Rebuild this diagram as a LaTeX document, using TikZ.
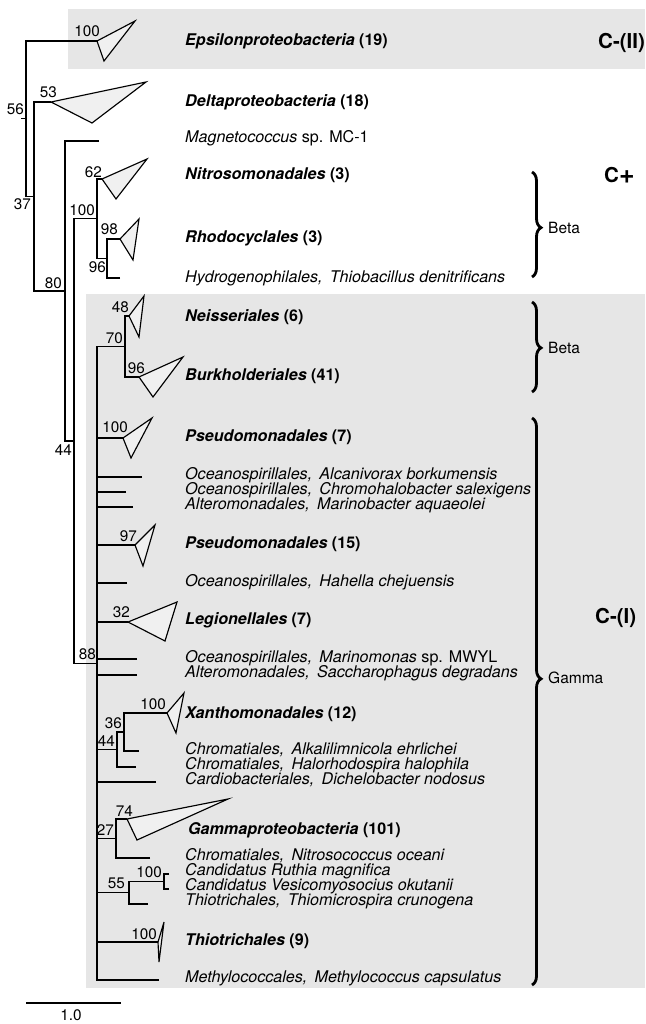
\documentclass[tikz,border=0pt]{standalone}
\usepackage{fontspec}
\usepackage{graphicx}
\setmainfont{TeX Gyre Heros}
\usetikzlibrary{decorations.pathreplacing}
\definecolor{bgbox}{HTML}{E6E6E6}
\definecolor{trifill}{HTML}{F0F0F0}
\newcommand{\commagap}{\hspace{0.45em}}
\begin{document}
\begin{tikzpicture}[x=1pt,y=-1pt,
  br/.style={line width=1.15pt, line join=miter},
  clade/.style={line width=1.15pt, fill=trifill, line join=miter},
  bs/.style={inner sep=0pt, anchor=base east, font=\fontsize{15.3}{17}\selectfont},
  leaf/.style={inner sep=0pt, anchor=base west, font=\fontsize{16.1}{17}\selectfont},
  grp/.style={inner sep=0pt, anchor=base west, font=\fontsize{16.1}{17}\selectfont\bfseries},
  cls/.style={inner sep=0pt, anchor=base west, font=\fontsize{20.5}{22}\selectfont\bfseries},
  brc/.style={decorate, decoration={brace, amplitude=9pt, aspect=#1}, line width=2.8pt},
  brc/.default=0.5,
  tax/.style={inner sep=0pt, anchor=west, font=\fontsize{15.5}{17}\selectfont}
]
\useasboundingbox (0,0) rectangle (645,1024);
% shaded groups
\fill[bgbox] (68,9) rectangle (645,69);
\fill[bgbox] (86,294) rectangle (645,988);

% ---------- coordinates ----------
\coordinate (rootstub) at (21,118.5);
\coordinate (n56) at (26,118.5);
\coordinate (eps) at (97,41);
\coordinate (n37) at (34,196.5);
\coordinate (delta) at (51,102);
\coordinate (n80) at (65,291);
\coordinate (magneto) at (99,141);
\coordinate (n44) at (74,441);
\coordinate (nB) at (97,218.5);
\coordinate (nitroso) at (102,179);
\coordinate (n96) at (107,258.5);
\coordinate (rhodo) at (120,239);
\coordinate (hydro) at (120,278);
\coordinate (n88) at (97,663.5);
\coordinate (n70) at (125,346.5);
\coordinate (neiss) at (129,316);
\coordinate (burk) at (139,377);
\coordinate (pseudoA) at (123,438);
\coordinate (alcani) at (142,477);
\coordinate (chromo) at (126,492);
\coordinate (marino) at (133,507);
\coordinate (pseudoB) at (135,545);
\coordinate (hahella) at (127,583);
\coordinate (legion) at (128,622);
\coordinate (marinom) at (137,659);
\coordinate (sacch) at (137,675);
\coordinate (n44b) at (117,749.5);
\coordinate (n36) at (124,732);
\coordinate (xantho) at (167,713);
\coordinate (alkali) at (139,751);
\coordinate (halo) at (136,767);
\coordinate (cardio) at (156,782);
\coordinate (n27) at (116,838.5);
\coordinate (gamma) at (127,819);
\coordinate (nitrosoc) at (150,858);
\coordinate (n55) at (129,892.5);
\coordinate (n100r) at (164,881.5);
\coordinate (ruthia) at (169,874);
\coordinate (vesico) at (169,889);
\coordinate (thiomicro) at (148,904);
\coordinate (thiotr) at (158,942);
\coordinate (methylo) at (159,980);

% ---------- branches ----------
\draw[br] (n56) -- (rootstub);
\draw[br] (eps) -| (n56);
\draw[br] (n37) -| (n56);
\draw[br] (delta) -| (n37);
\draw[br] (n80) -| (n37);
\draw[br] (magneto) -| (n80);
\draw[br] (n44) -| (n80);
\draw[br] (nB) -| (n44);
\draw[br] (n88) -| (n44);
\draw[br] (nitroso) -| (nB);
\draw[br] (n96) -| (nB);
\draw[br] (rhodo) -| (n96);
\draw[br] (hydro) -| (n96);
\draw[br] (n70) -| (n88);
\draw[br] (neiss) -| (n70);
\draw[br] (burk) -| (n70);
\foreach \c in {pseudoA,alcani,chromo,marino,pseudoB,hahella,legion,marinom,sacch,n44b,cardio,n27,n55,thiotr,methylo}
  \draw[br] (\c) -| (n88);
\draw[br] (n36) -| (n44b);
\draw[br] (halo) -| (n44b);
\draw[br] (xantho) -| (n36);
\draw[br] (alkali) -| (n36);
\draw[br] (gamma) -| (n27);
\draw[br] (nitrosoc) -| (n27);
\draw[br] (n100r) -| (n55);
\draw[br] (thiomicro) -| (n55);
\draw[br] (ruthia) -| (n100r);
\draw[br] (vesico) -| (n100r);

% ---------- collapsed clades ----------
\draw[clade] (eps) -- (135,21) -- (104,61) -- cycle;
\draw[clade] (delta) -- (146,82) -- (92,123) -- cycle;
\draw[clade] (nitroso) -- (147,159) -- (116,199) -- cycle;
\draw[clade] (rhodo) -- (139,219) -- (133,260) -- cycle;
\draw[clade] (neiss) -- (144,296) -- (139,337) -- cycle;
\draw[clade] (burk) -- (183,357) -- (153,397) -- cycle;
\draw[clade] (pseudoA) -- (152,418) -- (131,458) -- cycle;
\draw[clade] (pseudoB) -- (155,525) -- (143,566) -- cycle;
\draw[clade] (legion) -- (177,602) -- (165,641) -- cycle;
\draw[clade] (xantho) -- (184,693) -- (176,733) -- cycle;
\draw[clade] (gamma) -- (228,799) -- (137,840) -- cycle;
\draw[clade] (thiotr) -- (164,922) -- (159,962) -- cycle;

% ---------- support values ----------
\node[bs] (b1) at (100,37) {100};
\node[bs] (b2) at (24,115) {56};
\node[bs] (b3) at (31,209.5) {37};
\node[bs] (b4) at (57,98) {53};
\node[bs] (b5) at (62,288) {80};
\node[bs] (b6) at (102,178) {62};
\node[bs] (b7) at (95,215) {100};
\node[bs] (b8) at (118,235) {98};
\node[bs] (b9) at (106,272.5) {96};
\node[bs] (b10) at (129,312) {48};
\node[bs] (b11) at (123,343) {70};
\node[bs] (b12) at (145,373) {96};
\node[bs] (b13) at (72,455.5) {44};
\node[bs] (b14) at (128,432) {100};
\node[bs] (b15) at (137,541) {97};
\node[bs] (b16) at (130,617) {32};
\node[bs] (b17) at (96,659) {88};
\node[bs] (b18) at (166,709) {100};
\node[bs] (b19) at (122,728) {36};
\node[bs] (b20) at (115,746) {44};
\node[bs] (b21) at (133,816) {74};
\node[bs] (b22) at (114,835) {27};
\node[bs] (b23) at (162,877) {100};
\node[bs] (b24) at (125,888) {55};
\node[bs] (b25) at (157,939) {100};

% ---------- taxon labels ----------
\node[grp] (t1) at (185,46) {\textit{Epsilonproteobacteria} (19)};
\node[grp] (t2) at (185,107) {\textit{Deltaproteobacteria} (18)};
\node[leaf] (t3) at (185,143) {\textit{Magnetococcus} sp. MC-1};
\node[grp] (t4) at (185,180) {\textit{Nitrosomonadales} (3)};
\node[grp] (t5) at (185,243) {\textit{Rhodocyclales} (3)};
\node[leaf] (t6) at (185,282) {\textit{Hydrogenophilales,\commagap Thiobacillus denitrificans}};
\node[grp] (t7) at (185,321) {\textit{Neisseriales} (6)};
\node[grp] (t8) at (185,380) {\textit{Burkholderiales} (41)};
\node[grp] (t9) at (185,441) {\textit{Pseudomonadales} (7)};
\node[leaf] (t10) at (185,479) {\textit{Oceanospirillales,\commagap Alcanivorax borkumensis}};
\node[leaf] (t11) at (185,494) {\textit{Oceanospirillales,\commagap Chromohalobacter salexigens}};
\node[leaf] (t12) at (185,509) {\textit{Alteromonadales,\commagap Marinobacter aquaeolei}};
\node[grp] (t13) at (185,548) {\textit{Pseudomonadales} (15)};
\node[leaf] (t14) at (185,586) {\textit{Oceanospirillales,\commagap Hahella chejuensis}};
\node[grp] (t15) at (185,624) {\textit{Legionellales} (7)};
\node[leaf] (t16) at (185,662) {\textit{Oceanospirillales,\commagap Marinomonas} sp. MWYL};
\node[leaf] (t17) at (185,677) {\textit{Alteromonadales,\commagap Saccharophagus degradans}};
\node[grp] (t18) at (185,718) {\textit{Xanthomonadales} (12)};
\node[leaf] (t19) at (185,754) {\textit{Chromatiales,\commagap Alkalilimnicola ehrlichei}};
\node[leaf] (t20) at (185,769) {\textit{Chromatiales,\commagap Halorhodospira halophila}};
\node[leaf] (t21) at (185,784) {\textit{Cardiobacteriales,\commagap Dichelobacter nodosus}};
\node[grp] (t22) at (188,834) {\textit{Gammaproteobacteria} (101)};
\node[leaf] (t23) at (185,860) {\textit{Chromatiales,\commagap Nitrosococcus oceani}};
\node[leaf] (t24) at (185,875) {\textit{Candidatus Ruthia magnifica}};
\node[leaf] (t25) at (185,890) {\textit{Candidatus Vesicomyosocius okutanii}};
\node[leaf] (t26) at (185,905) {\textit{Thiotrichales,\commagap Thiomicrospira crunogena}};
\node[grp] (t27) at (185,945) {\textit{Thiotrichales} (9)};
\node[leaf] (t28) at (185,982) {\textit{Methylococcales,\commagap Methylococcus capsulatus}};

% ---------- braces and classes ----------
\coordinate (br1a) at (532,172); \coordinate (br1b) at (532,277);
\coordinate (br2a) at (532,302); \coordinate (br2b) at (532,392);
\coordinate (br3a) at (532,418); \coordinate (br3b) at (532,985);
\draw[brc=0.53] (br1a) -- (br1b);
\draw[brc=0.51] (br2a) -- (br2b);
\draw[brc=0.46] (br3a) -- (br3b);
\node[tax] (beta1) at (548,228) {Beta};
\node[tax] (beta2) at (548,348) {Beta};
\node[tax] (gam) at (548,678) {Gamma};
\node[cls] (c2) at (598,48.5) {C-(II)};
\node[cls] (cp) at (604,183) {C\raisebox{-0.02em}{\scalebox{1.3}{+}}};
\node[cls] (c1) at (595,623) {C-(I)};

% ---------- scale bar ----------
\coordinate (sb1) at (26,1003);
\coordinate (sb2) at (121,1003);
\draw[line width=1.15pt] (sb1) -- (sb2);
\node[inner sep=0pt, anchor=base, font=\fontsize{15.3}{17}\selectfont] (sbl) at (71,1020) {1.0};
\end{tikzpicture}
\end{document}
